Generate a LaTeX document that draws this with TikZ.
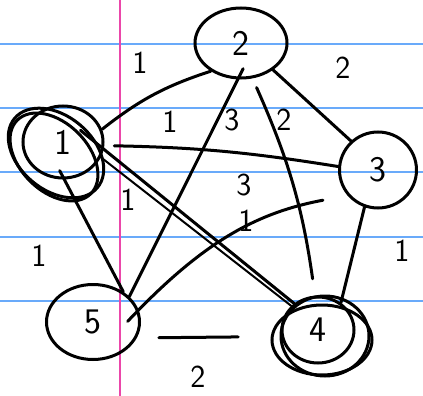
\documentclass[tikz,border=0pt]{standalone}
\usepackage{tikz}
\usetikzlibrary{shapes.geometric}
\definecolor{ruleblue}{RGB}{105,170,250}
\definecolor{marginpink}{RGB}{235,70,170}

\begin{document}
\begin{tikzpicture}[x=1pt, y=-1pt, line width=3pt, line cap=round,
  vertex/.style={draw, ellipse, inner sep=0pt, font=\fontsize{36}{36}\sffamily},
  wt/.style={font=\fontsize{32}{32}\sffamily}]
  \useasboundingbox (0,0) rectangle (423,396);
  \fill[white] (0,0) rectangle (423,396);
  \foreach \y in {44,108,172,237,301}
    \draw[ruleblue, line width=1.6pt, line cap=butt] (0,\y) -- (423,\y);
  \draw[marginpink, line width=1.6pt, line cap=butt] (120,0) -- (120,396);
  % vertices
  \node[vertex, minimum width=92pt, minimum height=70pt] (n2) at (241,43) {2};
  \node[vertex, minimum width=80pt, minimum height=72pt] (n1) at (63,142) {1};
  \node[vertex, minimum width=77pt, minimum height=76pt] (n3) at (378,170) {3};
  \node[vertex, minimum width=93pt, minimum height=75pt] (n5) at (93,322) {5};
  \node[vertex, minimum width=72pt, minimum height=66pt] (n4) at (318,330) {4};
  % extra loops round 1 and 4
  \draw[shift={(56,153)}, rotate=-40] (0,0) ellipse [x radius=54, y radius=37];
  \draw[shift={(54,157)}, rotate=-45] (0,0) ellipse [x radius=52, y radius=34];
  \draw[shift={(322,340)}] (0,0) ellipse [x radius=50, y radius=35];
  \draw[shift={(325,336)}] (0,0) ellipse [x radius=44, y radius=40];
  % edges
  \draw (n1.18) to[bend left=10] (n2.223);
  \draw (n2.-40) -- (n3.133);
  \draw[shorten <=10pt] (n1.-5) to[bend left=4] (n3.175);
  \draw[shorten <=-12pt] (n2.-95) -- (n5.35);
  \draw[shorten <=10pt, shorten >=17pt] (n2.-72) to[bend left=8] (n4.95);
  \draw[shorten <=-30pt] (n1.-10) -- (n4.132);
  \draw[line width=2pt] (n1.-22) -- (n4.138);
  \draw[shorten <=25pt, shorten >=-16pt] (n3.220) to[bend right=18] (n5.15);
  \draw[shorten <=-10pt] (n1.-88) -- (n5.45);
  \draw (n3.-110) -- (n4.50);
  \draw[shorten <=22pt, shorten >=43pt] (n5.-20) -- (n4.190);
  % weights
  \node[wt] (w12) at (140,63) {1};
  \node[wt] (w23) at (343,68) {2};
  \node[wt] (w13) at (170,122) {1};
  \node[wt] (w25) at (232,120) {3};
  \node[wt] (w24) at (284,120) {2};
  \node[wt] (w34a) at (244,185) {3};
  \node[wt] (w14) at (128,200) {1};
  \node[wt] (w35) at (246,221) {1};
  \node[wt] (w15) at (39,256) {1};
  \node[wt] (w34) at (402,251) {1};
  \node[wt] (w54) at (198,377) {2};
\end{tikzpicture}
\end{document}
